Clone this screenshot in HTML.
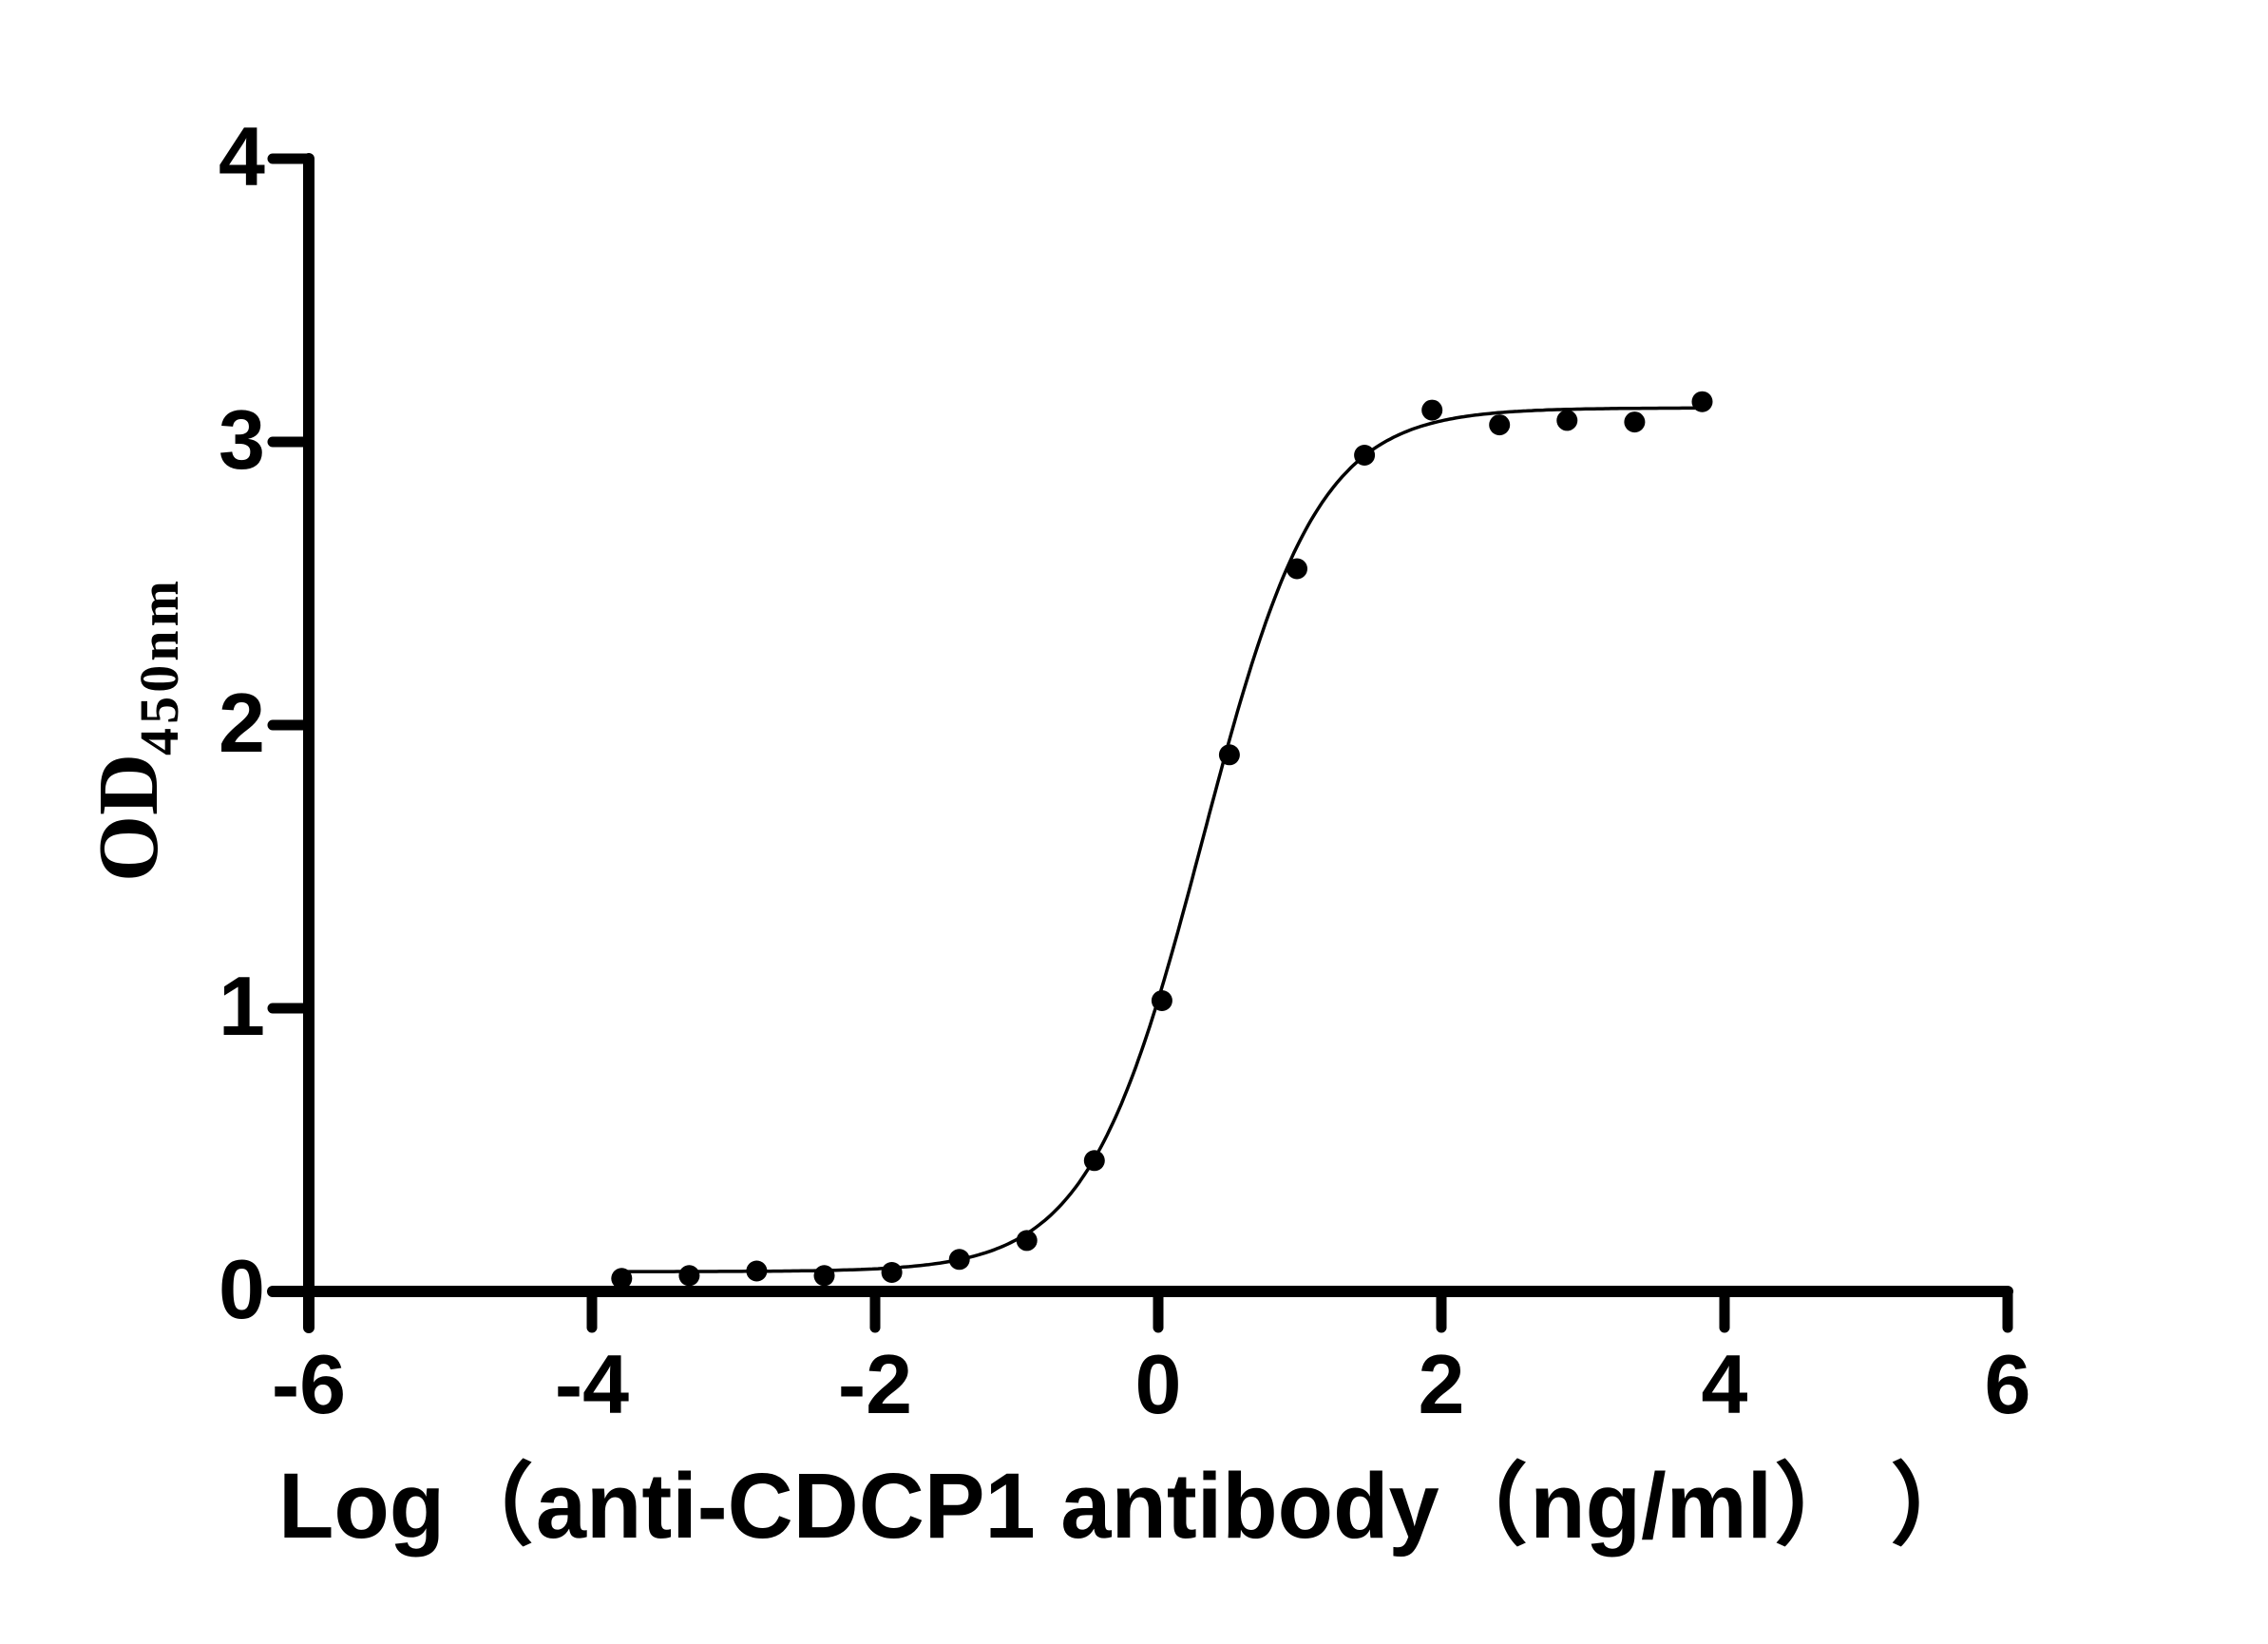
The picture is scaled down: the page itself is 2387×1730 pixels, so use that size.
<!DOCTYPE html>
<html><head><meta charset="utf-8"><style>html,body{margin:0;padding:0;background:#fff}</style></head>
<body>
<svg id="s" width="2387" height="1725" xmlns="http://www.w3.org/2000/svg">
<rect width="2387" height="1725" fill="#fff"/>
<g stroke="#000" stroke-linecap="round" fill="none">
<line x1="325" y1="167" x2="325" y2="1397" stroke-width="12"/>
<line x1="287" y1="1359" x2="2113" y2="1359" stroke-width="12"/>
<line x1="287" y1="167" x2="325" y2="167" stroke-width="11"/>
<line x1="287" y1="465" x2="325" y2="465" stroke-width="11"/>
<line x1="287" y1="763" x2="325" y2="763" stroke-width="11"/>
<line x1="287" y1="1061" x2="325" y2="1061" stroke-width="11"/>
<line x1="623" y1="1359" x2="623" y2="1397" stroke-width="11"/>
<line x1="921" y1="1359" x2="921" y2="1397" stroke-width="11"/>
<line x1="1219" y1="1359" x2="1219" y2="1397" stroke-width="11"/>
<line x1="1517" y1="1359" x2="1517" y2="1397" stroke-width="11"/>
<line x1="1815" y1="1359" x2="1815" y2="1397" stroke-width="11"/>
<line x1="2113" y1="1359" x2="2113" y2="1397" stroke-width="11"/>
<path id="curve" stroke-width="3.5"/>
</g>
<g id="pts" fill="#000"></g>
<g font-family="Liberation Sans, Arial, sans-serif" font-weight="bold" font-size="88" fill="#000">
<g text-anchor="end">
<text x="279" y="195">4</text>
<text x="279" y="493">3</text>
<text x="279" y="791">2</text>
<text x="279" y="1089">1</text>
<text x="279" y="1387">0</text>
</g>
<g text-anchor="middle">
<text x="325" y="1487">-6</text>
<text x="623" y="1487">-4</text>
<text x="921" y="1487">-2</text>
<text x="1219" y="1487">0</text>
<text x="1517" y="1487">2</text>
<text x="1815" y="1487">4</text>
<text x="2113" y="1487">6</text>
</g>
<text x="293" y="1618" font-size="97" textLength="1790" lengthAdjust="spacingAndGlyphs" font-family="Liberation Sans, Noto Sans CJK SC, sans-serif">Log（anti-CDCP1 antibody（ng/ml）  ）</text>
</g>
<g font-family="Liberation Serif, Times New Roman, serif" font-weight="bold" fill="#000">
<text transform="translate(165,928) rotate(-90)" font-size="90">OD</text>
<text transform="translate(187,795) rotate(-90)" font-size="58" textLength="184" lengthAdjust="spacing">450nm</text>
</g>
</svg>
<script>
(function(){
var X=function(v){return 325+(v+6)*149;},Y=function(v){return 1359-v*298;};
var f=function(x){return 0.07+3.05/(1+Math.exp(-2.48*(x-0.313)));};
var d="";for(var x=-3.78;x<=3.87;x+=0.02){d+=(d?"L":"M")+X(x).toFixed(1)+","+Y(f(x)).toFixed(1);}
document.getElementById("curve").setAttribute("d",d);
var ys=[0.046,0.056,0.072,0.056,0.067,0.113,0.18,0.462,1.027,1.895,2.552,2.953,3.112,3.06,3.076,3.07,3.142];
var g=document.getElementById("pts"),h="";
for(var i=0;i<ys.length;i++){var xv=-3.79+0.477*i;h+='<circle cx="'+X(xv).toFixed(1)+'" cy="'+Y(ys[i]).toFixed(1)+'" r="11"/>';}
g.innerHTML=h;
})();
</script>
</body></html>
